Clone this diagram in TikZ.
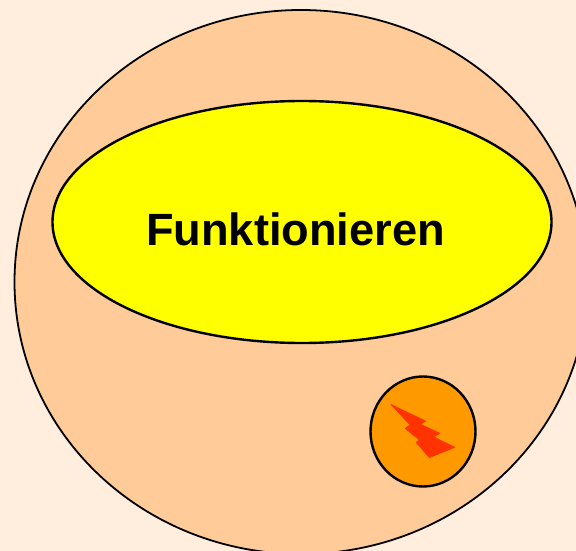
\documentclass[tikz,border=0pt]{standalone}
\usepackage{fontspec}
\setmainfont{Liberation Sans}
\definecolor{bgc}{RGB}{255,238,222}
\definecolor{outerc}{RGB}{255,204,153}
\definecolor{innerc}{RGB}{255,255,0}
\definecolor{smallc}{RGB}{255,153,0}
\definecolor{boltc}{RGB}{255,51,0}
\tikzset{shapeline/.style={draw=black,line width=#1}}
\begin{document}
\begin{tikzpicture}[x=1pt,y=-1pt]
\useasboundingbox (0,0) rectangle (576,551);
\fill[bgc] (0,0) rectangle (576,551);
\clip (0,0) rectangle (576,551);
\path[fill=outerc,shapeline=1.8pt] (301,282) ellipse [x radius=286.5,y radius=272];
\path[fill=innerc,shapeline=2.4pt] (302,222) ellipse [x radius=249.5,y radius=121];
\path[fill=smallc,shapeline=2.4pt] (423,431.5) ellipse [x radius=52.5,y radius=55];
\path[fill=boltc,draw=boltc,line width=0.5pt,line join=round] (390.7,404.3) -- (425.7,421) -- (420.7,424.3) -- (440,433.3) -- (434,437) -- (455,447.3) -- (429.3,457.7) -- (416,442.3) -- (419.3,440) -- (405,428.3) -- (410,425) -- cycle;
\node[font=\fontsize{45.2}{54}\selectfont\bfseries,text=black,inner sep=0pt] (label) at (295.5,229) {Funktionieren};
\end{tikzpicture}
\end{document}
